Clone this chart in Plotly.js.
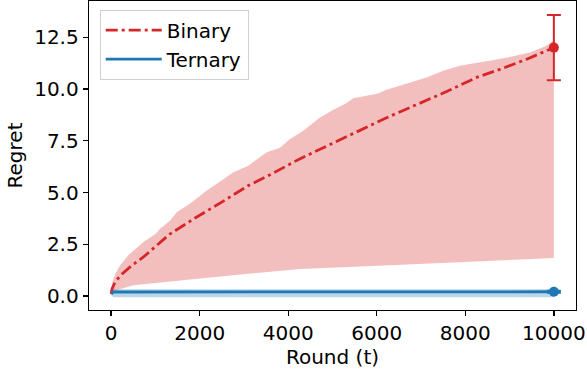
<!DOCTYPE html>
<html>
<head>
<meta charset="utf-8">
<script src="https://cdn.plot.ly/plotly-3.0.1.min.js"></script>
<style>html,body{margin:0;padding:0;background:#fff;}#chart{width:587px;height:371px;}</style>
</head>
<body>
<div id="chart"></div>
<script>
// Binary: mean curve
const binT    = [0, 20, 90, 240, 450, 730, 1317, 1896, 2498, 3100, 3664, 4190, 4944, 5600, 6208, 6850, 7465, 8255, 8781, 9400, 10000];
const binMean = [0.1, 0.35, 0.69, 1.06, 1.45, 1.89, 2.98, 3.77, 4.54, 5.34, 5.94, 6.55, 7.32, 7.98, 8.60, 9.20, 9.77, 10.56, 10.95, 11.45, 12.0];
// Binary: upper band edge
const binUpT  = [0, 30, 100, 203, 400, 730, 1000, 1106, 1332, 1483, 1800, 2160, 2500, 2761, 3100, 3514, 3815, 4041, 4341, 4700, 5019, 5300, 5470, 6034, 6200, 6449, 7126, 7502, 7878, 8200, 8555, 9000, 9458, 9800, 9985, 10000];
const binUp   = [0.1, 0.7, 1.1, 1.49, 2.0, 2.61, 3.0, 3.25, 3.65, 4.05, 4.5, 5.10, 5.6, 5.98, 6.3, 6.95, 7.16, 7.59, 7.99, 8.6, 9.0, 9.3, 9.55, 9.78, 9.95, 10.12, 10.56, 10.88, 11.12, 11.25, 11.36, 11.55, 11.76, 12.05, 12.33, 12.4];
// Binary: lower band edge
const binLoT  = [0, 128, 503, 1257, 2009, 2761, 3514, 4266, 5500, 7276, 8500, 10000];
const binLo   = [0.1, 0.29, 0.53, 0.69, 0.85, 1.01, 1.17, 1.31, 1.42, 1.60, 1.70, 1.84];
// Binary: final error bar
const binEndT = [10000];
const binEnd  = [12.0];
const binEndErr = [1.58];

// Ternary
const terT    = [0, 50, 10000];
const terMean = [0.1, 0.2, 0.21];
const terUp   = [0.1, 0.33, 0.33];
const terLo   = [0.05, -0.05, -0.05];
const terEndT = [10000];
const terEnd  = [0.21];
const terEndErr = [0.05];

const red = '#d62728', blue = '#1f77b4';
const font = 'DejaVu Sans, sans-serif';

const traces = [
  { x: binUpT.concat(binLoT.slice().reverse()), y: binUp.concat(binLo.slice().reverse()),
    fill: 'toself', fillcolor: 'rgba(214,39,40,0.3)', line: {width: 0}, mode: 'lines',
    showlegend: false, hoverinfo: 'skip' },
  { x: terT.concat(terT.slice().reverse()), y: terUp.concat(terLo.slice().reverse()),
    fill: 'toself', fillcolor: 'rgba(31,119,180,0.3)', line: {width: 0}, mode: 'lines',
    showlegend: false, hoverinfo: 'skip' },
  { x: binT, y: binMean, mode: 'lines', name: 'Binary',
    line: {color: red, width: 2.8, dash: '12px,4px,3px,4px'} },
  { x: terT, y: terMean, mode: 'lines', name: 'Ternary',
    line: {color: blue, width: 2.8} },
  { x: binEndT, y: binEnd, mode: 'markers', showlegend: false,
    marker: {color: red, size: 10},
    error_y: {type: 'data', array: binEndErr, visible: true, color: red, thickness: 2, width: 7} },
  { x: terEndT, y: terEnd, mode: 'markers', showlegend: false,
    marker: {color: blue, size: 10},
    error_y: {type: 'data', array: terEndErr, visible: true, color: blue, thickness: 2, width: 7} }
];

const layout = {
  width: 587, height: 371,
  margin: {l: 89, r: 11, t: 1, b: 61},
  paper_bgcolor: '#fff', plot_bgcolor: '#fff',
  font: {family: font, size: 20, color: '#000'},
  showlegend: true,
  legend: {x: 0.022, y: 0.972, xanchor: 'left', yanchor: 'top',
    bgcolor: 'rgba(255,255,255,0.8)', bordercolor: '#d0d0d0', borderwidth: 1,
    itemwidth: 56,
    font: {family: font, size: 20, color: '#000'}, tracegroupgap: 0},
  xaxis: {range: [-500, 10500], tickvals: [0, 2000, 4000, 6000, 8000, 10000],
    ticktext: ['0', '2000', '4000', '6000', '8000', '10000'],
    showgrid: false, zeroline: false, showline: true, mirror: true, linecolor: '#000', linewidth: 1.3,
    ticks: 'outside', ticklen: 5, tickwidth: 1.3, tickcolor: '#000',
    tickfont: {size: 20}, title: {text: 'Round (t)', font: {size: 20}, standoff: 4}},
  yaxis: {range: [-0.67, 14.25], tickvals: [0, 2.5, 5, 7.5, 10, 12.5],
    ticktext: ['0.0', '2.5', '5.0', '7.5', '10.0', '12.5'],
    showgrid: false, zeroline: false, showline: true, mirror: true, linecolor: '#000', linewidth: 1.3,
    ticks: 'outside', ticklen: 5, tickwidth: 1.3, tickcolor: '#000',
    tickfont: {size: 20}, title: {text: 'Regret', font: {size: 20}, standoff: 6}}
};

Plotly.newPlot('chart', traces, layout, {displayModeBar: false, staticPlot: true});
</script>
</body>
</html>
